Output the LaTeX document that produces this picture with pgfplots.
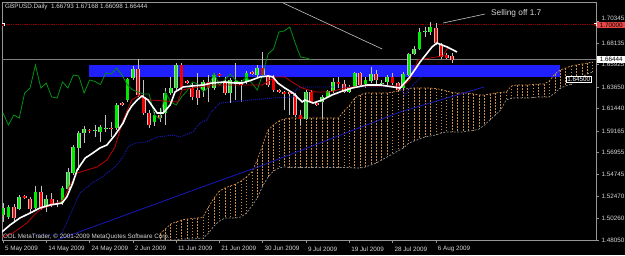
\documentclass[border=0pt]{standalone}
\usepackage{pgfplots}
\pgfplotsset{compat=1.18}
\usepackage{pgfplotstable}
\usepackage{fontspec}
\setmainfont{Liberation Sans}
\definecolor{axgray}{RGB}{150,150,150}
\definecolor{txt}{RGB}{215,215,215}
\definecolor{cbull}{RGB}{0,235,0}
\definecolor{cbear}{RGB}{245,0,0}
\definecolor{wick}{RGB}{195,195,195}
\definecolor{zoneblue}{RGB}{32,32,255}
\definecolor{lvlred}{RGB}{135,0,0}
\definecolor{kijred}{RGB}{190,0,0}
\definecolor{chik}{RGB}{0,145,20}
\definecolor{dblue}{RGB}{25,25,190}
\definecolor{cloudor}{RGB}{205,140,70}
\definecolor{cloudgr}{RGB}{140,140,140}
\definecolor{lblred}{RGB}{235,70,70}
\pgfplotsset{candlebar/.style={draw=none, mark=none, forget plot,
  error bars/.cd, y dir=minus, y explicit, error mark=none}}

\pgfplotstableread{
i o h l c
0 1.5060 1.5182 1.4989 1.5131
1 1.5040 1.5162 1.5019 1.5142
2 1.5142 1.5172 1.4999 1.5029
3 1.5121 1.5264 1.5111 1.5244
4 1.5254 1.5264 1.5223 1.5233
5 1.5223 1.5244 1.5091 1.5121
6 1.5131 1.5356 1.5121 1.5295
7 1.5295 1.5356 1.5111 1.5142
8 1.5142 1.5264 1.5091 1.5223
9 1.5223 1.5284 1.5142 1.5172
10 1.5172 1.5213 1.5142 1.5182
11 1.5182 1.5356 1.5162 1.5335
12 1.5325 1.5539 1.5315 1.5499
13 1.5488 1.5774 1.5468 1.5754
14 1.5743 1.5917 1.5519 1.5896
15 1.5896 1.5968 1.5794 1.5937
16 1.5927 1.5937 1.5896 1.5912
17 1.5912 1.5978 1.5856 1.5922
18 1.5907 1.5978 1.5805 1.5958
19 1.5942 1.6080 1.5907 1.5952
20 1.5952 1.6009 1.5856 1.5942
21 1.5947 1.6202 1.5927 1.6182
22 1.6202 1.6213 1.6172 1.6182
23 1.6233 1.6457 1.6213 1.6447
24 1.6457 1.6580 1.6437 1.6549
25 1.6549 1.6651 1.6264 1.6284
26 1.6264 1.6437 1.6080 1.6100
27 1.6100 1.6131 1.5947 1.5978
28 1.6009 1.6111 1.5968 1.6080
29 1.6080 1.6151 1.6009 1.6049
30 1.6100 1.6355 1.5978 1.6304
31 1.6304 1.6468 1.6284 1.6355
32 1.6355 1.6610 1.6335 1.6590
33 1.6590 1.6610 1.6335 1.6355
34 1.6427 1.6437 1.6396 1.6406
35 1.6355 1.6406 1.6233 1.6264
36 1.6335 1.6508 1.6182 1.6253
37 1.6335 1.6437 1.6264 1.6417
38 1.6417 1.6488 1.6213 1.6355
39 1.6355 1.6508 1.6335 1.6488
40 1.6498 1.6508 1.6468 1.6478
41 1.6417 1.6468 1.6284 1.6304
42 1.6304 1.6457 1.6202 1.6437
43 1.6412 1.6610 1.6233 1.6422
44 1.6401 1.6437 1.6213 1.6391
45 1.6417 1.6529 1.6396 1.6508
46 1.6519 1.6529 1.6488 1.6498
47 1.6488 1.6590 1.6468 1.6559
48 1.6559 1.6723 1.6468 1.6488
49 1.6468 1.6488 1.6366 1.6386
50 1.6468 1.6488 1.6315 1.6335
51 1.6335 1.6345 1.6304 1.6315
52 1.6315 1.6325 1.6131 1.6294
53 1.6315 1.6325 1.6080 1.6294
54 1.6284 1.6304 1.6060 1.6080
55 1.6080 1.6131 1.5978 1.6039
56 1.6039 1.6335 1.6029 1.6315
57 1.6315 1.6335 1.6202 1.6213
58 1.6202 1.6213 1.6172 1.6182
59 1.6213 1.6284 1.6049 1.6264
60 1.6264 1.6335 1.6253 1.6325
61 1.6325 1.6457 1.6304 1.6417
62 1.6417 1.6468 1.6355 1.6396
63 1.6396 1.6437 1.6304 1.6315
64 1.6315 1.6386 1.6304 1.6366
65 1.6366 1.6519 1.6355 1.6508
66 1.6508 1.6519 1.6366 1.6386
67 1.6396 1.6468 1.6355 1.6437
68 1.6427 1.6570 1.6406 1.6498
69 1.6498 1.6539 1.6386 1.6437
70 1.6401 1.6437 1.6376 1.6411
71 1.6417 1.6488 1.6386 1.6468
72 1.6468 1.6508 1.6386 1.6406
73 1.6406 1.6417 1.6325 1.6335
74 1.6355 1.6519 1.6335 1.6498
75 1.6488 1.6712 1.6478 1.6702
76 1.6702 1.6784 1.6692 1.6753
77 1.6753 1.6967 1.6743 1.6927
78 1.6927 1.6978 1.6876 1.6937
79 1.6927 1.7029 1.6896 1.6978
80 1.6967 1.7018 1.6794 1.6814
81 1.6794 1.6814 1.6651 1.6672
82 1.6692 1.6712 1.6651 1.6661
83 1.66793 1.67168 1.66098 1.66444
}\candles

\pgfplotstableread{
i up lo
29 1.4866 1.4805
30 1.4917 1.4805
31 1.4968 1.4805
32 1.4989 1.4805
33 1.5009 1.4815
34 1.5019 1.4815
35 1.5024 1.4815
36 1.5029 1.4820
37 1.5040 1.4825
38 1.5142 1.4876
39 1.5233 1.4948
40 1.5305 1.4999
41 1.5335 1.5029
42 1.5356 1.5029
43 1.5376 1.5029
44 1.5407 1.5040
45 1.5448 1.5080
46 1.5499 1.5152
47 1.5621 1.5233
48 1.5774 1.5356
49 1.5927 1.5448
50 1.5978 1.5509
51 1.6019 1.5539
52 1.6039 1.5550
53 1.6049 1.5544
54 1.6049 1.5544
55 1.6049 1.5544
56 1.6049 1.5544
57 1.6049 1.5544
58 1.6049 1.5544
59 1.6049 1.5544
60 1.6049 1.5544
61 1.6049 1.5544
62 1.6049 1.5544
63 1.6121 1.5544
64 1.6172 1.5544
65 1.6253 1.5539
66 1.6284 1.5539
67 1.6304 1.5550
68 1.6304 1.5570
69 1.6304 1.5590
70 1.6304 1.5621
71 1.6304 1.5652
72 1.6315 1.5682
73 1.6325 1.5713
74 1.6345 1.5743
75 1.6350 1.5794
76 1.6355 1.5815
77 1.6355 1.5835
78 1.6355 1.5856
79 1.6355 1.5866
80 1.6350 1.5876
81 1.6340 1.5896
82 1.6325 1.5907
83 1.6310 1.5907
84 1.6304 1.5907
85 1.6304 1.5907
86 1.6304 1.5917
87 1.6294 1.5922
88 1.6284 1.5937
89 1.6284 1.5978
90 1.6294 1.6029
91 1.6304 1.6080
92 1.6310 1.6131
93 1.6315 1.6233
94 1.6376 1.6253
95 1.6386 1.6253
96 1.6386 1.6253
97 1.6386 1.6253
98 1.6391 1.6258
99 1.6396 1.6264
100 1.6396 1.6264
101 1.6427 1.6264
102 1.6498 1.6304
103 1.6539 1.6355
104 1.6559 1.6376
105 1.6580 1.6396
106 1.6590 1.6437
107 1.6600 1.6468
108 1.6610 1.6498
109 1.6621 1.6519
}\cloud

\pgfplotstableread{
i v
0 1.6100
1 1.5978
2 1.6080
3 1.6049
4 1.6304
5 1.6355
6 1.6590
7 1.6355
8 1.6406
9 1.6264
10 1.6253
11 1.6417
12 1.6355
13 1.6488
14 1.6478
15 1.6304
16 1.6437
17 1.6422
18 1.6391
19 1.6508
20 1.6498
21 1.6559
22 1.6488
23 1.6386
24 1.6335
25 1.6315
26 1.6294
27 1.6294
28 1.6080
29 1.6039
30 1.6315
31 1.6213
32 1.6182
33 1.6264
34 1.6325
35 1.6417
36 1.6396
37 1.6315
38 1.6366
39 1.6508
40 1.6386
41 1.6437
42 1.6498
43 1.6437
44 1.6411
45 1.6468
46 1.6406
47 1.6335
48 1.6498
49 1.6702
50 1.6753
51 1.6927
52 1.6937
53 1.6978
54 1.6814
55 1.6672
56 1.6661
57 1.66444
}\chikou

\begin{document}
\begin{tikzpicture}
\useasboundingbox (0,0) rectangle (625pt,255pt);
\fill[black] (0,0) rectangle (625pt,255pt);
\begin{axis}[
  at={(2pt,15pt)}, anchor=south west, scale only axis,
  width=594pt, height=238pt,
  xmin=-0.185, xmax=109.61, ymin=1.4805, ymax=1.72326,
  axis line style={axgray, line width=0.6pt},
  xtick={0,8,...,80},
  xticklabels={5 May 2009,14 May 2009,24 May 2009,2 Jun 2009,11 Jun 2009,21 Jun 2009,30 Jun 2009,9 Jul 2009,19 Jul 2009,28 Jul 2009,6 Aug 2009},
  ytick={1.4805,1.5026,1.5247,1.54745,1.56955,1.59165,1.6144,1.6365,1.65925,1.68135,1.70345},
  yticklabels={1.48050,1.50260,1.52470,1.54745,1.56955,1.59165,1.61440,1.63650,1.65925,1.68135,\raisebox{6pt}{1.70345}},
  xtick pos=lower, ytick pos=upper, yticklabel pos=upper,
  tick align=outside, major tick length=3pt,
  tick style={axgray, line width=0.6pt},
  tick label style={font=\fontsize{6.3}{7}\selectfont, text=txt},
  xticklabel style={anchor=north west, xshift=-1.5pt},
  yticklabel style={anchor=west, xshift=-1pt},
]
% zone
\addplot[fill=zoneblue, draw=none, forget plot] coordinates {(15.9,1.6468) (103.0,1.6468) (103.0,1.6590) (15.9,1.6590)} -- cycle;
% levels
\addplot[lvlred, line width=0.9pt, dash pattern=on 1.2pt off 0.6pt, forget plot] coordinates {(-0.2,1.7) (109.6,1.7)};
\addplot[gray, line width=0.5pt, forget plot] coordinates {(-0.2,1.66444) (109.6,1.66444)};
% cloud
\addplot[candlebar, error bar style={draw=cloudor, line width=0.6pt, dash pattern=on 1.5pt off 1.5pt}]
  table[x=i, y=up, y error minus expr=\thisrow{up}-\thisrow{lo}] {\cloud};
\addplot[cloudor, line width=0.7pt, dash pattern=on 2pt off 1.5pt, forget plot] table[x=i, y=up] {\cloud};
\addplot[cloudgr, line width=0.7pt, dash pattern=on 2pt off 1.5pt, forget plot] table[x=i, y=lo] {\cloud};
% trend lines
\addplot[wick, line width=0.6pt, forget plot] coordinates {(51.8,1.7222) (70.1,1.6753)};
\addplot[wick, line width=0.6pt, forget plot] coordinates {(81.3,1.7018) (89.1,1.7110)};
% candles: wicks
\addplot[candlebar, error bar style={draw=wick, solid, line width=0.6pt}]
  table[x=i, y=h, y error minus expr=\thisrow{h}-\thisrow{l}] {\candles};
% body outlines
\addplot[candlebar, error bar style={draw=wick, solid, line width=3.8pt}]
  table[x=i, y expr={max(\thisrow{o},\thisrow{c})}, y error minus expr={abs(\thisrow{o}-\thisrow{c})}] {\candles};
% bull bodies
\addplot[candlebar, error bar style={draw=cbull, solid, line width=2.4pt}]
  table[x=i, y=c, y error minus expr={max(\thisrow{c}-\thisrow{o},0)}] {\candles};
% bear bodies
\addplot[candlebar, error bar style={draw=cbear, solid, line width=2.4pt}]
  table[x=i, y=o, y error minus expr={max(\thisrow{o}-\thisrow{c},0)}] {\candles};
% long MA (blue solid)
\addplot[dblue, line width=0.8pt, forget plot] coordinates {(10,1.4805) (38.3,1.5376) (48.1,1.5570) (73.4,1.6111) (88.9,1.6366)};
% blue dotted
\addplot[dblue, line width=0.9pt, dash pattern=on 1pt off 1pt, forget plot] coordinates {
(5.5,1.4856) (10.5,1.4856) (10.9,1.4876) (12.8,1.5111) (14.2,1.5284) (16.5,1.5386) (18.3,1.5448)
(20.7,1.5550) (22.2,1.5652) (23.1,1.5754) (24.4,1.5794) (26.6,1.5805) (28.5,1.5856) (31.4,1.5876)
(32.7,1.5856) (35.1,1.5907) (36.4,1.5998) (37.7,1.6029) (38.3,1.6100) (40.1,1.6202) (42,1.6213)
(43.8,1.6223) (49.9,1.6253) (53.6,1.6264) (54.3,1.6355) (56.2,1.6366) (73.4,1.6366) (74.3,1.6284)
(75.2,1.6355) (76.7,1.6437) (78,1.6498)};
% chikou
\addplot[chik, line width=0.8pt, forget plot] table[x=i, y=v] {\chikou};
% red line
\addplot[kijred, line width=0.8pt, forget plot] coordinates {
(-0.2,1.4836) (1.8,1.4876) (4.4,1.4978) (6.3,1.5091) (7.4,1.5131) (9.2,1.5162) (11.1,1.5213)
(12.4,1.5366) (13.7,1.5488) (15.5,1.5519) (17.4,1.5550) (19.2,1.5621) (20.7,1.5754) (22.2,1.6029)
(23.8,1.6233) (25.3,1.6284) (26.2,1.6253) (27.2,1.6233) (32.3,1.6213) (33.1,1.6335) (34.9,1.6355)
(38.6,1.6386) (47.9,1.6386) (50.3,1.6468) (52.1,1.6468) (53.4,1.6417) (55.3,1.6355) (57.7,1.6315)
(60.4,1.6315) (63.2,1.6355) (66,1.6376) (73.9,1.6376) (75.2,1.6437) (76.7,1.6641) (81.3,1.6682)
(82.1,1.6753) (82.5,1.6774)};
% white line
\addplot[white, line width=1.6pt, forget plot] coordinates {
(-0.2,1.4887) (1.3,1.4958) (3.1,1.5029) (5,1.5080) (6.8,1.5131) (8.7,1.5162) (10.9,1.5182)
(11.8,1.5244) (12.9,1.5386) (13.7,1.5519) (15.2,1.5641) (16.6,1.5692) (17.9,1.5743) (19.2,1.5774)
(20.7,1.5876) (22.2,1.5998) (23.1,1.6111) (23.8,1.6172) (24.8,1.6233) (25.7,1.6274) (26.8,1.6233)
(28.5,1.6100) (29.6,1.6100) (30.9,1.6182) (31.8,1.6315) (33.3,1.6366) (34.9,1.6376) (37,1.6386)
(38.6,1.6406) (41,1.6417) (42.9,1.6406) (44.2,1.6406) (46,1.6437) (47.5,1.6468) (49,1.6478)
(49.9,1.6468) (50.8,1.6406) (52.1,1.6355) (53.6,1.6304) (55.3,1.6213) (55.8,1.6233) (57.3,1.6202)
(59,1.6233) (60.8,1.6284) (62.3,1.6315) (64.5,1.6355) (67.3,1.6386) (69.7,1.6386) (72.1,1.6366)
(73.4,1.6355) (75.2,1.6468) (77.1,1.6621) (79.3,1.6774) (80.2,1.6814) (82.1,1.6774) (83.9,1.6723)};
\node[anchor=west, text=txt, font=\fontsize{8.3}{9}\selectfont, inner sep=0pt] at (axis cs:90.2,1.7115) {Selling off 1.7};
\end{axis}
% texts and labels
\node[anchor=west, text=txt, font=\fontsize{6.3}{7}\selectfont, inner sep=0pt] at (5pt,248pt) {GBPUSD.Daily\ \ 1.66793 1.67168 1.66098 1.66444};
\node[anchor=west, text=txt, font=\fontsize{6.3}{7}\selectfont, inner sep=0pt] at (3pt,18pt) {ODL MetaTrader, © 2001-2009 MetaQuotes Software Corp.};
\fill[white] (1.5pt,228.5pt) rectangle (4.5pt,231.5pt);
\fill[lvlred] (2.3pt,229.3pt) rectangle (3.7pt,230.7pt);
\fill[white] (593.5pt,228.5pt) rectangle (596.5pt,231.5pt);
\fill[lvlred] (594.3pt,229.3pt) rectangle (595.7pt,230.7pt);
\node[anchor=west, fill=lblred, text=black, font=\fontsize{6.3}{7}\selectfont, inner xsep=1.5pt, inner ysep=1pt, minimum width=28pt] at (597pt,230pt) {1.70000};
\node[anchor=west, fill=white, text=black, font=\fontsize{6.3}{7}\selectfont, inner xsep=1.5pt, inner ysep=1pt, minimum width=28pt] at (597pt,195.3pt) {1.66444};
\node[anchor=west, fill=black, draw=white, line width=0.5pt, text=white, font=\fontsize{6.3}{7}\selectfont, inner xsep=1pt, inner ysep=0.8pt] at (566pt,175.5pt) {1.64500};
\end{tikzpicture}
\end{document}
